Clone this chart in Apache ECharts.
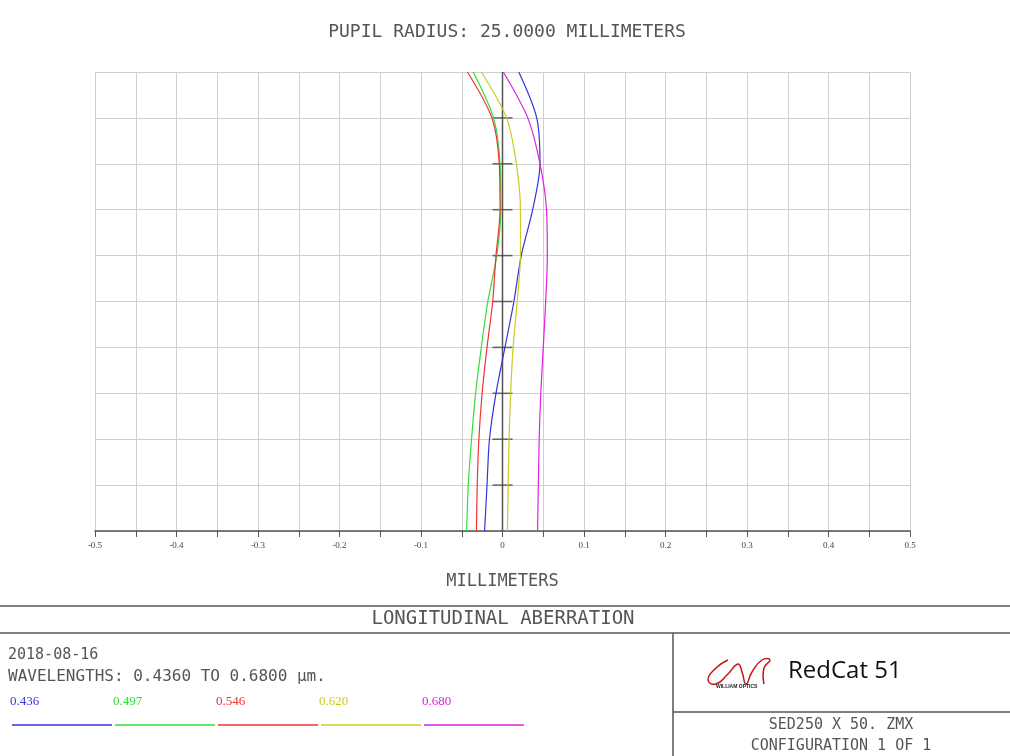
<!DOCTYPE html>
<html>
<head>
<meta charset="utf-8">
<script src="https://cdn.jsdelivr.net/npm/echarts@6/dist/echarts.min.js"></script>
<style>
  html, body { margin: 0; padding: 0; background: #fff; }
  #main { width: 1010px; height: 756px; }
</style>
</head>
<body>
<div id="main"></div>
<script>
// normalized pupil coordinate (bottom 0 .. top 1)
const pupil = [0, 0.1, 0.2, 0.3, 0.4, 0.5, 0.6, 0.7, 0.8, 0.9, 1.0];
// longitudinal focus shift in millimeters per wavelength
const w436 = [-0.022, -0.019, -0.016, -0.008, 0.003, 0.014, 0.023, 0.037, 0.046, 0.042, 0.020];
const w497 = [-0.044, -0.042, -0.038, -0.033, -0.026, -0.018, -0.007, -0.002, -0.003, -0.011, -0.036];
const w546 = [-0.032, -0.031, -0.029, -0.025, -0.019, -0.012, -0.008, -0.003, -0.004, -0.013, -0.043];
const w620 = [0.006, 0.007, 0.008, 0.010, 0.013, 0.018, 0.022, 0.022, 0.017, 0.005, -0.026];
const w680 = [0.043, 0.044, 0.045, 0.047, 0.050, 0.053, 0.055, 0.054, 0.046, 0.031, 0.001];
const waveNames = ['0.436', '0.497', '0.546', '0.620', '0.680'];
const waveColors = ['#3333dd', '#33dd33', '#ee3333', '#cccc22', '#dd22dd'];
const tickRows = [0.1, 0.2, 0.3, 0.4, 0.5, 0.6, 0.7, 0.8, 0.9];

const chart = echarts.init(document.getElementById('main'));
const mono = 'DejaVu Sans Mono';
const txt = '#555';

const curves = [w436, w497, w546, w620, w680].map((vals, i) => ({
  type: 'line',
  name: waveNames[i],
  data: vals.map((v, k) => [v, pupil[k]]),
  smooth: 0.3,
  symbol: 'none',
  lineStyle: { color: waveColors[i], width: 1.2 },
  z: 3
}));

function label(x, y, text, font, fill, align) {
  return { type: 'text', x: x, y: y, style: { text: text, font: font, fill: fill || txt, textAlign: align || 'left' } };
}

const legendItems = [];
waveNames.forEach((n, i) => {
  legendItems.push(label(10 + i * 103, 695, n, '13px "Liberation Serif"', waveColors[i]));
  legendItems.push({ type: 'line', shape: { x1: 12 + i * 103, y1: 725, x2: 112 + i * 103, y2: 725 },
    style: { stroke: waveColors[i], lineWidth: 1.5 } });
});

chart.setOption({
  animation: false,
  backgroundColor: '#fff',
  title: {
    text: 'PUPIL RADIUS: 25.0000 MILLIMETERS',
    left: 502, top: 18, textAlign: 'center',
    textStyle: { fontFamily: mono, fontWeight: 'normal', fontSize: 18, color: txt }
  },
  grid: { left: 95, right: 100, top: 72, bottom: 225 },
  xAxis: {
    type: 'value', min: -0.5, max: 0.5, interval: 0.05,
    name: 'MILLIMETERS', nameLocation: 'middle', nameGap: 42,
    nameTextStyle: { fontFamily: mono, fontSize: 17, color: txt },
    axisLine: { show: true, lineStyle: { color: '#555', width: 1.5 } },
    axisTick: { show: true, length: 6, lineStyle: { color: '#555' } },
    axisLabel: {
      fontFamily: 'Liberation Serif', fontSize: 9, color: '#444', margin: 10,
      formatter: v => {
        const r = Math.round(v * 100);
        if (r % 10 !== 0) return '';
        return r === 0 ? '0' : (r / 100).toFixed(1);
      }
    },
    splitLine: { show: true, lineStyle: { color: '#cfcfcf', width: 1 } }
  },
  yAxis: {
    type: 'value', min: 0, max: 1, interval: 0.1,
    axisLine: { show: false }, axisTick: { show: false }, axisLabel: { show: false },
    splitLine: { show: true, lineStyle: { color: '#cfcfcf', width: 1 } }
  },
  series: [
    {
      type: 'line', data: [[0, 0], [0, 1]], symbol: 'none',
      lineStyle: { color: '#555', width: 1.5 }, z: 2
    },
    {
      type: 'scatter', data: tickRows.map(p => [0, p]),
      symbol: 'rect', symbolSize: [20, 1.5],
      itemStyle: { color: '#444' }, z: 2
    },
    ...curves
  ],
  graphic: [
    { type: 'line', shape: { x1: 0, y1: 606, x2: 1010, y2: 606 }, style: { stroke: '#555', lineWidth: 1.5 } },
    { type: 'line', shape: { x1: 0, y1: 633, x2: 1010, y2: 633 }, style: { stroke: '#555', lineWidth: 1.5 } },
    { type: 'line', shape: { x1: 673, y1: 633, x2: 673, y2: 756 }, style: { stroke: '#555', lineWidth: 1.5 } },
    { type: 'line', shape: { x1: 673, y1: 712, x2: 1010, y2: 712 }, style: { stroke: '#555', lineWidth: 1.5 } },
    label(503, 610, 'LONGITUDINAL ABERRATION', '19px "DejaVu Sans Mono"', txt, 'center'),
    label(8, 648, '2018-08-16', '15px "DejaVu Sans Mono"'),
    label(8, 669, 'WAVELENGTHS: 0.4360 TO 0.6800 µm.', '16px "DejaVu Sans Mono"'),
    ...legendItems,
    { type: 'polyline', shape: { smooth: 0.5, points: [[728, 660], [716, 668], [708, 680], [716, 684], [728, 674], [738, 664], [742, 672], [746, 684], [752, 672], [762, 660], [770, 660], [764, 668], [764, 684]] },
      style: { stroke: '#cc1111', fill: null, lineWidth: 1.5 } },
    label(716, 684, 'WILLIAM OPTICS', 'bold 5px "Liberation Sans"', '#222'),
    label(788, 659, 'RedCat 51', '24px "Open Sans"', '#111'),
    label(841, 718, 'SED250 X 50. ZMX', '15px "DejaVu Sans Mono"', txt, 'center'),
    label(841, 739, 'CONFIGURATION 1 OF 1', '15px "DejaVu Sans Mono"', txt, 'center')
  ]
});
</script>
</body>
</html>
